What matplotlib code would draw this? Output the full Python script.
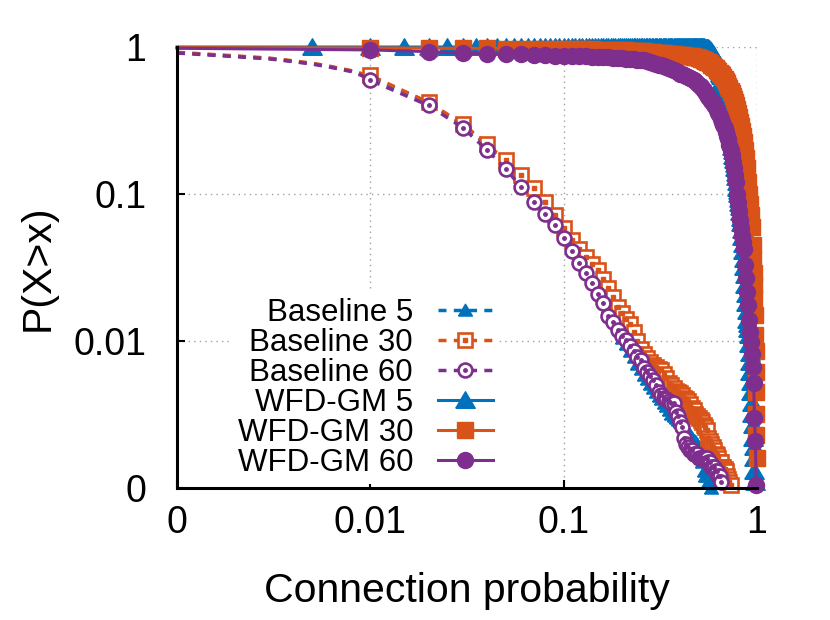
import numpy as np
import matplotlib.pyplot as plt
from matplotlib.legend_handler import HandlerTuple

plt.rcParams['font.family'] = ['Liberation Sans', 'DejaVu Sans']

blue, orange, purple = '#0072bd', '#d95319', '#7e2f8e'

ticks = [0.001, 0.01, 0.1, 1]
tick_labels = ['0', '0.01', '0.1', '1']

# baselines: line only below 0.01, one point every 0.01 after that
head_x = [0.001, 0.002, 0.003, 0.004, 0.005, 0.006, 0.007, 0.008, 0.009]
step_x = [round(0.01 * i, 2) for i in range(1, 100)]

b5_head = [0.915, 0.865, 0.835, 0.80, 0.77, 0.74, 0.71, 0.685, 0.65]
b5_y = [0.62, 0.42, 0.295, 0.215, 0.16, 0.125, 0.10, 0.082, 0.068, 0.055,
        0.045, 0.038, 0.032, 0.027, 0.023, 0.020, 0.017, 0.0148, 0.0125, 0.0105,
        0.0095, 0.0086, 0.0078, 0.0070, 0.0064, 0.0059, 0.0055, 0.0051, 0.0048, 0.0045,
        0.0042, 0.0040, 0.0038, 0.0036, 0.0034, 0.0032, 0.0031, 0.0030, 0.0029, 0.0028,
        0.0027, 0.0026, 0.0025, 0.0024, 0.0023, 0.0022, 0.0021, 0.0021, 0.0020, 0.0018,
        0.0016, 0.0015, 0.0013, 0.0012, 0.0012, 0.0011, 0.0011, 0.0010]

b30_head = [0.92, 0.87, 0.84, 0.805, 0.775, 0.745, 0.715, 0.69, 0.66]
b30_y = [0.64, 0.42, 0.30, 0.22, 0.169, 0.134, 0.109, 0.088, 0.072, 0.0585,
         0.0486, 0.042, 0.037, 0.0335, 0.0305, 0.0265, 0.0228, 0.0198, 0.017, 0.0155,
         0.0142, 0.013, 0.0115, 0.010, 0.0088, 0.0082, 0.0077, 0.0072, 0.0069, 0.0067,
         0.0065, 0.0063, 0.0060, 0.0056, 0.0052, 0.0050, 0.0048, 0.0046, 0.0045, 0.0044,
         0.0043, 0.0041, 0.0040, 0.0039, 0.0037, 0.0035, 0.0034, 0.0032, 0.0031, 0.0030,
         0.0029, 0.0028, 0.0027, 0.0026, 0.0025, 0.0022, 0.0021, 0.0020, 0.0019, 0.0018,
         0.0017, 0.00167, 0.0016, 0.0015, 0.0015, 0.0014, 0.0014, 0.00135, 0.0013, 0.0012,
         0.00115, 0.0011, 0.00105]

b60_head = [0.91, 0.86, 0.83, 0.795, 0.765, 0.735, 0.705, 0.68, 0.64]
b60_y = [0.593, 0.40, 0.283, 0.20, 0.149, 0.112, 0.088, 0.073, 0.062, 0.050,
         0.041, 0.034, 0.029, 0.025, 0.021, 0.018, 0.0148, 0.0135, 0.0118, 0.0108,
         0.0102, 0.0092, 0.0085, 0.0078, 0.0074, 0.0066, 0.0062, 0.0058, 0.0054, 0.0050,
         0.0045, 0.0043, 0.0041, 0.0040, 0.0039, 0.0038, 0.0038, 0.0033, 0.0031, 0.0028,
         0.0026, 0.0022, 0.0020, 0.0019, 0.0018, 0.0018, 0.0017, 0.0017, 0.0017, 0.0016,
         0.0016, 0.0016, 0.0016, 0.0016, 0.0016, 0.0015, 0.0015, 0.0014, 0.0014, 0.0014,
         0.0013, 0.0013, 0.0012, 0.0012, 0.0011]

# WFD-GM 5: one point every 0.005
w5_x = [0.001] + [round(0.005 * i, 3) for i in range(1, 196)]
w5_y = [1.0, 1.0, 1.0, 1.0, 1.0, 1.0, 1.0, 1.0, 1.0, 1.0, 1.0,
        1.0, 1.0, 1.0, 1.0, 1.0, 1.0, 1.0, 1.0, 1.0, 1.0,
        1.0, 1.0, 1.0, 1.0, 1.0, 1.0, 1.0, 1.0, 1.0, 1.0,
        1.0, 1.0, 1.0, 1.0, 1.0, 1.0, 1.0, 1.0, 1.0, 1.0,
        1.0, 1.0, 1.0, 1.0, 1.0, 1.0, 1.0, 1.0, 1.0, 1.0,
        1.0, 1.0, 1.0, 1.0, 1.0, 1.0, 1.0, 1.0, 1.0, 1.0,
        1.0, 1.0, 1.0, 1.0, 1.0, 1.0, 1.0, 1.0, 1.0, 1.0,
        1.0, 1.0, 1.0, 1.0, 1.0, 1.0, 1.0, 1.0, 1.0, 1.0,
        1.0, 1.0, 1.0, 1.0, 1.0, 1.0, 1.0, 1.0, 1.0, 1.0,
        1.0, 1.0, 1.0, 1.0, 1.0, 1.0, 1.0, 1.0, 1.0, 1.0,
        0.999, 0.998, 0.997, 0.996, 0.995, 0.993, 0.991, 0.989, 0.987, 0.985,
        0.978, 0.97, 0.962, 0.953, 0.943, 0.93, 0.915, 0.90, 0.88, 0.86,
        0.84, 0.82, 0.80, 0.78, 0.755, 0.73, 0.705, 0.68, 0.655, 0.63,
        0.60, 0.57, 0.545, 0.515, 0.49, 0.46, 0.435, 0.41, 0.39, 0.37,
        0.35, 0.33, 0.31, 0.29, 0.27, 0.255, 0.24, 0.225, 0.21, 0.195,
        0.18, 0.17, 0.16, 0.15, 0.14, 0.13, 0.12, 0.11, 0.105, 0.10,
        0.093, 0.087, 0.081, 0.075, 0.069, 0.063, 0.057, 0.051, 0.046, 0.041,
        0.036, 0.032, 0.028, 0.024, 0.021, 0.018, 0.016, 0.014, 0.013, 0.012,
        0.011, 0.0095, 0.0083, 0.0072, 0.0062, 0.0053, 0.0045, 0.0038, 0.0032, 0.0027,
        0.0022, 0.0019, 0.0016, 0.0013, 0.0011]

w30_x = [0.001] + step_x[:90] + [0.91, 0.92, 0.93, 0.94, 0.95, 0.955, 0.96, 0.965,
                                 0.97, 0.975, 0.98, 0.983, 0.986, 0.988, 0.99, 0.992, 0.994]
w30_y = [0.99,
         0.985, 0.982, 0.98, 0.978, 0.976, 0.975, 0.974, 0.973, 0.972, 0.97,
         0.968, 0.966, 0.964, 0.962, 0.96, 0.958, 0.956, 0.954, 0.952, 0.95,
         0.947, 0.944, 0.941, 0.938, 0.935, 0.932, 0.928, 0.924, 0.92, 0.915,
         0.91, 0.907, 0.904, 0.90, 0.897, 0.894, 0.891, 0.888, 0.885, 0.882,
         0.879, 0.876, 0.873, 0.87, 0.867, 0.864, 0.86, 0.855, 0.85, 0.845,
         0.835, 0.825, 0.815, 0.805, 0.795, 0.785, 0.775, 0.76, 0.745, 0.73,
         0.715, 0.70, 0.685, 0.67, 0.655, 0.64, 0.625, 0.605, 0.585, 0.565,
         0.545, 0.525, 0.505, 0.485, 0.465, 0.445, 0.425, 0.40, 0.38, 0.355,
         0.335, 0.31, 0.29, 0.27, 0.25, 0.225, 0.20, 0.175, 0.15, 0.12,
         0.10, 0.085, 0.072, 0.06, 0.045, 0.036, 0.029, 0.024,
         0.0196, 0.015, 0.011, 0.0085, 0.0062, 0.0045, 0.0032, 0.0023, 0.0016]

w60_x = [0.001] + step_x[:99]
w60_y = [0.98,
         0.955, 0.93, 0.91, 0.90, 0.895, 0.89, 0.885, 0.88, 0.875, 0.87,
         0.868, 0.865, 0.862, 0.86, 0.857, 0.854, 0.851, 0.848, 0.845, 0.84,
         0.835, 0.83, 0.825, 0.82, 0.815, 0.81, 0.80, 0.79, 0.78, 0.77,
         0.76, 0.75, 0.74, 0.73, 0.72, 0.71, 0.70, 0.69, 0.675, 0.66,
         0.655, 0.645, 0.635, 0.625, 0.615, 0.605, 0.595, 0.585, 0.57, 0.555,
         0.54, 0.525, 0.51, 0.495, 0.475, 0.46, 0.445, 0.43, 0.415, 0.40,
         0.385, 0.37, 0.355, 0.34, 0.325, 0.31, 0.295, 0.28, 0.265, 0.25,
         0.235, 0.215, 0.20, 0.185, 0.165, 0.15, 0.135, 0.12, 0.10, 0.088,
         0.077, 0.067, 0.059, 0.052, 0.047, 0.042, 0.033, 0.027, 0.0216, 0.0176,
         0.014, 0.0115, 0.0099, 0.0081, 0.0067, 0.0052, 0.003, 0.0021, 0.00105]

tri = [(-1, -0.8), (1, -0.8), (0, 0.9), (-1, -0.8)]
nh = len(head_x)

fig = plt.figure(figsize=(8.3, 6.2), dpi=100)
ax = fig.add_axes([0.2133, 0.2129, 0.6988, 0.7113])

dash = dict(ls='--', dashes=(2.3, 2.1), lw=2.5, clip_on=False, markevery=slice(nh, None))
l1, = ax.plot(head_x + step_x[:len(b5_y)], b5_head + b5_y, color=blue,
              marker=tri, ms=10, **dash)
l2, = ax.plot(head_x + step_x[:len(b30_y)], b30_head + b30_y, color=orange,
              marker='s', ms=9.5, mfc='white', mew=1.9, **dash)
d2, = ax.plot(step_x[:len(b30_y)], b30_y, ls='none', marker='s', ms=2.5,
              color=orange, clip_on=False)
l3, = ax.plot(head_x + step_x[:len(b60_y)], b60_head + b60_y, color=purple,
              marker='o', ms=10, mfc='white', mew=1.9, **dash)
d3, = ax.plot(step_x[:len(b60_y)], b60_y, ls='none', marker='o', ms=2.5,
              color=purple, clip_on=False)

solid = dict(ls='-', lw=2.2, clip_on=False, markevery=slice(1, None))
l4, = ax.plot(w5_x, w5_y, color=blue, marker=tri, ms=14, **solid)
l5, = ax.plot(w30_x, w30_y, color=orange, marker='s', ms=11, **solid)
l6, = ax.plot(w60_x, w60_y, color=purple, marker='o', ms=11.5, **solid)

ax.set_xscale('log')
ax.set_yscale('log')
ax.set_xlim(0.001, 1)
ax.set_ylim(0.001, 1)
ax.set_xticks(ticks, tick_labels)
ax.set_yticks(ticks, tick_labels)
ax.minorticks_off()
ax.tick_params(direction='in', length=6, width=1.5, labelsize=27)
ax.tick_params(axis='x', pad=12)
ax.tick_params(axis='y', pad=22)
ax.grid(True, color='#a0a0a0', ls=(0, (1, 3)), lw=1)
ax.set_axisbelow(True)
for s in ['top', 'right']:
    ax.spines[s].set_visible(False)
for s in ['left', 'bottom']:
    ax.spines[s].set_linewidth(2.2)

ax.set_xlabel('Connection probability', fontsize=29.5)
ax.xaxis.set_label_coords(0.5, -0.19)
ax.set_ylabel('P(X>x)', fontsize=29.5)
ax.yaxis.set_label_coords(-0.208, 0.5)

leg = ax.legend([l1, (l2, d2), (l3, d3), l4, l5, l6],
                ['Baseline 5', 'Baseline 30', 'Baseline 60',
                 'WFD-GM 5', 'WFD-GM 30', 'WFD-GM 60'],
                handler_map={tuple: HandlerTuple(ndivide=1)},
                loc='lower right', bbox_to_anchor=(0.555, 0.009),
                borderaxespad=0, markerfirst=False, fontsize=22.5,
                handlelength=1.75, handletextpad=0.8, labelspacing=0,
                borderpad=0.2, frameon=True, fancybox=False,
                edgecolor='none', facecolor='white', framealpha=1)
for col in leg._legend_handle_box.get_children():
    col.align = 'right'

fig.savefig('out.png', dpi=100)
